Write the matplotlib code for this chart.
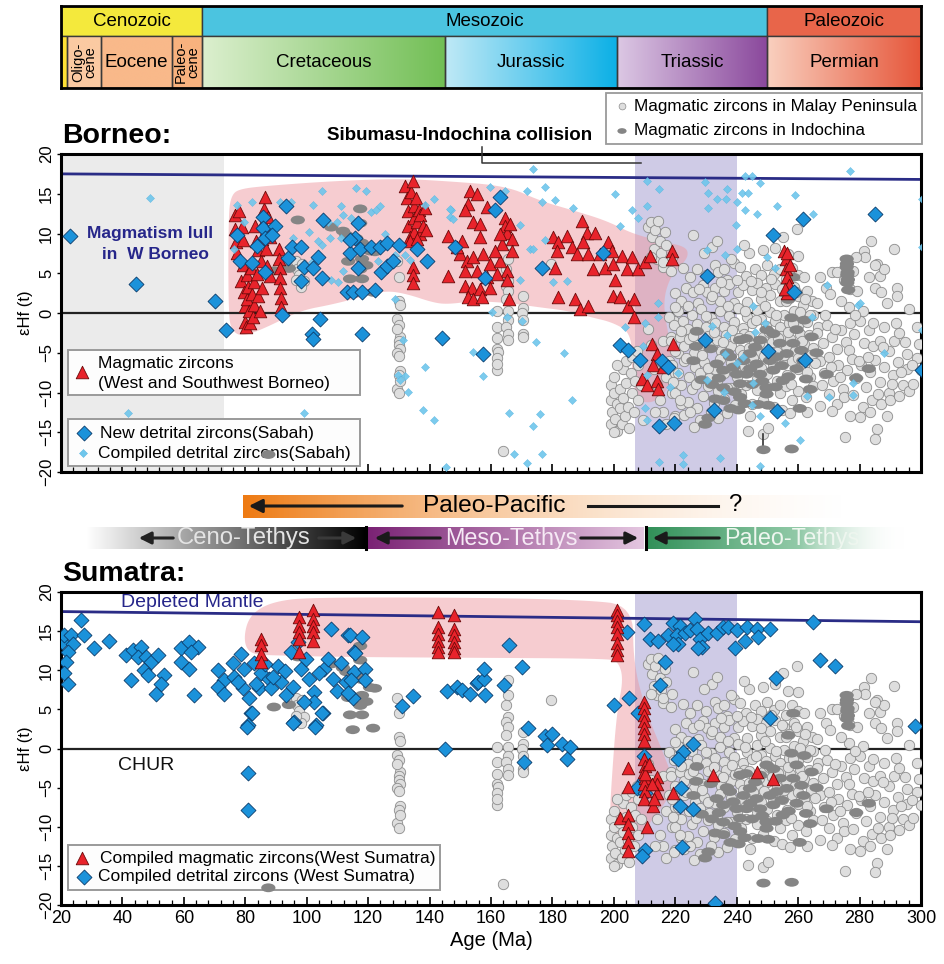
import numpy as np
import matplotlib
matplotlib.use('Agg')
import matplotlib.pyplot as plt
from matplotlib import font_manager
from matplotlib.path import Path
from matplotlib.patches import Polygon, Rectangle
from matplotlib.colors import to_rgb
from matplotlib.ticker import MultipleLocator


def pick_font(*names):
    for name in names:
        try:
            font_manager.findfont(font_manager.FontProperties(family=name),
                                  fallback_to_default=False)
            return name
        except ValueError:
            continue
    return None


BASE = pick_font('Liberation Sans', 'Arial') or 'DejaVu Sans'
NARROW = pick_font('Liberation Sans Narrow', 'Arial Narrow')
SQ = 1.0
if NARROW is None:
    NARROW, SQ = BASE, 0.82
plt.rcParams['font.family'] = [BASE, 'DejaVu Sans']

# ---------------- geological time scale ----------------
era_bounds = [20, 66, 250, 300]
era_names = ['Cenozoic', 'Mesozoic', 'Paleozoic']
era_colors = ['#f4e93c', '#4bc4e0', '#e8654a']
per_bounds = [20, 22, 33, 56, 66, 145, 201, 250, 300]
per_names = ['', 'Oligo-\ncene', 'Eocene', 'Paleo-\ncene', 'Cretaceous', 'Jurassic', 'Triassic', 'Permian']
per_left = ['#ffe135', '#fbcaa2', '#f9b98a', '#f8b27e', '#dcefcf', '#bfe9f6', '#dcc8e4', '#f9d0bf']
per_right = ['#ffe135', '#fbcaa2', '#f9b98a', '#f8b27e', '#72bf55', '#0cb0e6', '#8a489c', '#e6563a']

# ---------------- depleted mantle line (age, eHf at 20 and 300 Ma) ----------------
dm_age = [20, 300]
dm_borneo = [17.5, 16.8]
dm_sumatra = [17.5, 16.2]

# ---------------- magmatic zircons, Malay Peninsula (shared by both panels) ----------------
malay = [
    (96.5, 6.5), (97.0, 5.5), (97.5, 4.8), (98.5, 6.2), (99.0, 4.0), (98.0, 3.3), (96.5, 4.2),
    (129.5, 6.5), (130.0, 4.5), (130.0, 1.5), (129.5, -0.8), (130.0, -1.5), (130.5, -3.0), (130.0, -3.5),
    (130.0, -4.0), (130.5, -4.5), (129.5, -5.0), (130.0, -5.4), (130.5, -7.3), (130.0, -7.8), (129.5, -9.5),
    (130.0, -10.1), (130.5, 1.0), (129.5, -2.0), (130.5, -8.5),
    (162.0, 0.2), (162.0, -1.7), (162.0, -3.2), (162.0, -4.5), (162.3, -4.9), (162.0, -5.7), (162.0, -7.2),
    (161.8, -6.4), (165.5, 8.7), (165.5, 6.8), (165.0, 5.5), (165.5, 4.0), (165.0, 3.4), (165.5, 2.8),
    (165.0, 1.7), (165.5, 0.2), (165.5, -0.9), (165.0, -1.7), (165.5, -2.6), (165.5, -3.4),
    (170.5, 2.1), (170.5, 0.6), (170.0, 0.0), (170.5, -0.9), (170.5, -2.6), (170.5, -3.0),
    (179.5, 6.2), (163.8, -17.3),
    (199.0, -9.0), (199.0, -11.0), (199.5, -12.5), (199.0, -14.0), (200.0, -8.0), (200.0, -10.0),
    (200.5, -13.3), (201.0, -11.5), (201.0, -14.8), (202.0, -9.5), (202.0, -12.0), (202.5, -14.0),
    (203.0, -7.0), (203.0, -10.7), (203.5, -13.0), (204.0, -6.0), (204.0, -8.8), (204.5, -11.8),
    (205.0, -14.5), (205.5, -7.5), (206.0, -5.5), (206.0, -10.0), (206.5, -12.5), (207.0, -8.5),
    (207.5, -4.8), (208.0, -11.0), (208.0, -6.5), (209.0, -9.0), (209.5, -13.5), (201.0, -6.5), (200.0, -15.0),
    (211.0, 10.8), (212.0, 11.5), (212.5, 9.5), (213.5, 10.5), (213.0, 8.0), (214.0, 6.8), (215.0, 9.0),
    (215.5, 7.5), (216.0, 5.8), (214.5, 11.6), (217.0, 8.5), (212.0, 7.0), (216.5, 10.2), (218.5, 5.3),
    (225.9, 9.8), (222.6, 5.7), (216.1, 6.4), (218.8, 7.0),
    (211.0, -2.0), (212.0, -4.0), (213.0, -7.0), (214.0, -9.0), (215.0, -11.0), (216.0, -12.5), (217.0, -8.0),
    (218.0, -6.0), (219.0, -10.0), (220.0, -13.0), (218.5, -3.0), (219.5, -1.0), (221.0, -5.0), (221.0, -9.0),
    (222.0, -11.5), (217.0, -14.0), (213.5, -12.5), (216.0, -3.5), (220.0, -7.5), (222.5, -3.0),
    (224.8, 4.5), (227.0, 5.5), (230.0, 4.8), (233.0, 6.0), (234.0, 5.2), (236.0, 5.5), (237.0, 4.2),
    (239.0, 6.3), (241.0, 5.8), (243.0, 4.6), (243.9, 7.6), (246.0, 5.5), (248.0, 4.8), (250.0, 6.0),
    (252.0, 4.9), (254.0, 5.5), (256.0, 4.3), (258.0, 5.6), (260.0, 4.8), (260.1, 7.2), (259.6, 10.6),
    (262.0, 4.5), (255.2, 9.6), (256.8, 7.4), (232.0, 8.3), (238.0, 6.8),
    (220.0, 2.5), (222.0, 1.5), (223.5, 3.2), (225.9, 2.6), (227.5, 1.2), (229.0, 3.5), (230.2, 2.6),
    (231.5, 1.8), (233.0, 3.2), (234.5, 1.5), (236.0, 2.8), (237.5, 3.6), (239.0, 1.3), (240.5, 2.7),
    (242.0, 3.5), (243.5, 1.4), (245.0, 2.9), (246.5, 3.8), (248.0, 1.7), (249.5, 3.2), (251.0, 2.3),
    (252.5, 3.6), (254.0, 1.5), (255.5, 2.8), (257.0, 1.9), (258.5, 3.3), (260.0, 2.2), (261.5, 1.0),
    (263.0, 2.8), (264.5, 1.5),
    (218.0, -0.5), (219.5, -1.5), (221.0, 0.3), (222.5, -1.0), (224.0, -2.0), (225.5, -0.3), (227.0, -1.4),
    (228.5, 0.5), (230.0, -1.8), (231.5, -0.6), (233.0, -1.2), (234.5, 0.2), (236.0, -1.7), (237.5, -0.4),
    (239.0, -1.1), (240.5, 0.6), (242.0, -1.9), (243.5, -0.5), (245.0, -1.3), (246.5, 0.4), (248.0, -0.8),
    (249.5, -1.6), (251.0, 0.1), (252.5, -1.0), (254.0, -1.8), (255.5, -0.2), (257.0, -1.2), (258.5, 0.3),
    (260.0, -1.5), (261.5, -0.5), (263.0, -1.1), (265.0, -0.3), (266.5, -1.8),
    (218.5, -3.5), (220.0, -4.8), (221.5, -3.0), (223.0, -4.2), (224.5, -3.3), (226.0, -5.0), (227.5, -3.8),
    (229.0, -4.5), (230.5, -2.9), (232.0, -4.0), (233.5, -3.4), (235.0, -4.8), (236.5, -2.8), (238.0, -4.2),
    (239.5, -3.2), (241.0, -4.6), (242.5, -2.7), (244.0, -4.4), (245.5, -3.5), (247.0, -5.0), (248.5, -3.0),
    (250.0, -4.3), (251.5, -3.6), (253.0, -4.9), (254.5, -2.9), (256.0, -4.1), (257.5, -3.3), (259.0, -4.8),
    (260.5, -2.6), (262.0, -3.9), (263.5, -2.8), (265.0, -4.4),
    (219.0, -6.5), (221.0, -7.5), (223.0, -6.0), (224.5, -8.0), (226.5, -6.8), (228.0, -7.6), (229.5, -6.2),
    (231.0, -8.2), (233.0, -7.0), (234.5, -5.8), (236.0, -7.5), (238.0, -6.3), (240.0, -8.1), (241.5, -6.6),
    (243.0, -7.4), (245.0, -6.1), (246.5, -8.3), (248.0, -6.9), (250.0, -7.7), (251.5, -5.9), (253.0, -8.5),
    (255.0, -6.4), (256.5, -7.8), (258.0, -6.0), (260.0, -7.1), (262.0, -6.5), (264.0, -8.0),
    (220.0, -10.0), (222.0, -9.0), (224.0, -11.2), (225.5, -9.6), (227.0, -12.0), (229.0, -10.5), (230.5, -9.2),
    (232.5, -11.3), (234.0, -9.8), (236.0, -10.8), (238.0, -9.4), (239.5, -11.6), (241.5, -10.2), (243.0, -9.0),
    (245.0, -11.4), (246.5, -9.7), (248.5, -10.9), (250.0, -9.3), (252.0, -11.8), (254.0, -10.1), (256.0, -9.2),
    (258.0, -11.0), (260.0, -9.8), (262.5, -10.6),
    (219.5, -13.2), (223.0, -12.8), (228.0, -13.5), (243.8, -14.9), (248.6, -15.2), (250.3, -14.5),
    (234.0, -13.2), (226.0, -14.3),
    (219.8, 0.8), (221.8, -2.3), (223.6, -5.6), (224.2, 0.9), (225.8, -2.9), (226.6, -8.9), (227.8, 3.0),
    (228.7, -5.3), (229.9, -0.4), (230.7, -6.9), (231.9, 2.2), (232.6, -2.4), (233.7, -8.6), (234.8, 3.9),
    (235.4, -3.6), (236.7, -9.4), (237.3, 0.9), (238.5, -2.1), (239.3, -7.2), (240.2, 4.2), (240.9, -3.1),
    (241.9, -5.3), (242.8, 0.2), (243.9, -2.9), (244.6, 4.0), (245.4, -5.6), (246.2, -0.9), (247.3, -3.8),
    (247.9, 2.6), (248.8, -5.4), (249.2, 0.9), (250.4, -2.4), (251.2, 4.3), (251.9, -6.7), (252.9, -0.3),
    (253.6, -3.1), (254.7, 3.0), (255.3, -5.3), (255.9, 1.5), (256.8, -2.4), (257.7, -8.9), (258.3, -1.3),
    (259.2, 2.7), (259.8, -5.6), (260.7, 0.1), (261.3, -3.5), (262.2, 1.8), (262.9, -7.4), (263.7, -0.2),
    (264.3, -5.3), (219.2, -8.7), (221.4, -11.0), (224.9, -12.5), (236.9, -12.6), (231.6, -12.4),
    (254.8, -12.2), (257.4, -12.6), (244.3, -12.9), (233.6, 9.1), (229.4, 7.6), (242.4, 8.6), (248.7, 7.9),
    (252.6, 8.2),
    (267.0, 4.5), (269.0, 3.2), (271.0, 5.1), (272.6, 5.1), (274.8, 4.1), (275.9, 6.2), (277.0, 3.0),
    (279.1, 2.8), (281.3, 7.8), (281.8, 7.0), (283.0, 4.5), (285.1, 3.2), (285.6, 6.2), (286.7, 4.7),
    (288.0, 5.5), (291.1, 8.0), (292.1, 3.2), (292.1, 2.2), (279.0, 7.0), (285.0, 6.0), (276.4, 0.7),
    (289.0, 1.3), (296.0, 0.5), (270.5, 2.4), (274.0, 1.5), (281.0, 0.3), (287.0, 2.6), (283.8, 9.0),
    (277.8, 5.3),
    (266.0, -2.5), (268.0, -3.8), (269.5, -1.5), (271.0, -3.0), (272.5, -4.5), (274.0, -2.2), (275.5, -3.6),
    (277.0, -1.2), (278.1, -2.6), (280.2, -1.0), (281.5, -3.8), (283.0, -2.2), (284.5, -4.2), (286.7, -3.5),
    (288.0, -1.8), (289.5, -4.8), (291.1, -3.5), (293.0, -2.5), (295.4, -5.2), (298.7, -5.6), (298.7, -1.8),
    (300.0, -7.2), (266.3, 1.2), (268.6, -0.2), (272.0, -2.0), (276.7, -4.6), (278.6, -0.3), (284.3, -1.3),
    (287.6, -4.3), (291.8, -1.2), (294.8, -3.6), (299.2, -3.9),
    (267.0, -6.0), (268.5, -7.5), (270.0, -5.5), (271.5, -8.5), (273.0, -6.5), (274.5, -9.5), (276.0, -7.2),
    (277.5, -5.8), (279.0, -8.2), (280.5, -6.6), (282.0, -9.3), (283.5, -7.4), (285.0, -5.9), (286.5, -8.7),
    (288.0, -6.8), (289.5, -10.0), (291.0, -7.8), (292.5, -6.2), (294.0, -9.0), (295.5, -7.1), (270.0, -10.2),
    (272.6, -11.5), (275.0, -10.6), (278.0, -10.3), (281.0, -11.8), (284.0, -10.9), (287.0, -11.5),
    (290.0, -11.0), (293.0, -10.4), (267.2, -11.7), (271.0, -12.3), (280.2, -13.1), (275.3, -15.6),
    (285.6, -14.6), (285.1, -15.8), (262.8, -12.5), (265.0, -9.2), (296.0, -9.8), (265.6, -6.3),
    (267.8, -9.1), (270.6, -6.8), (273.6, -8.0), (279.7, -6.1), (282.6, -5.5), (286.0, -10.2), (290.4, -8.9),
    (293.6, -7.4), (297.0, -6.6), (297.5, -8.9), (288.9, -12.9), (283.5, -12.4), (276.8, -12.9),
]

# ---------------- magmatic zircons, Indochina (shared by both panels) ----------------
indochina = [
    (89.3, 5.3), (94.2, 5.6), (97.1, 11.7), (108.0, 10.8), (111.8, 10.3), (112.9, 9.8), (116.1, 9.4),
    (117.4, 13.1), (117.4, 11.3), (118.0, 8.8), (120.6, 7.8), (122.2, 7.7), (118.0, 6.8), (119.4, 6.0),
    (117.4, 5.5), (114.1, 4.3), (118.0, 4.3), (121.6, 2.6), (115.0, 2.4), (113.5, 6.5), (87.5, -17.8),
    (230.8, -13.2), (229.7, -14.0), (248.7, -17.2), (257.9, -17.1), (235.6, -11.0), (235.6, -9.4),
    (241.1, -10.6), (241.1, -8.9), (235.6, -7.2), (238.9, -6.8), (242.2, -6.0), (249.7, -9.4), (249.7, -10.2),
    (251.9, -7.2), (253.0, -5.5), (254.1, -3.8), (258.4, -3.8), (261.7, -6.0), (264.4, -3.0), (263.9, -9.6),
    (259.5, -2.1), (256.8, 1.7), (258.4, 4.5), (227.0, -2.3), (225.9, -6.0), (233.5, -6.4), (244.3, -5.1),
    (246.5, -6.4), (251.9, -2.6), (249.7, -2.1), (256.3, -5.1), (241.1, -3.4), (269.3, -7.7), (237.8, -5.5),
    (240.0, -7.7), (243.2, -7.7), (247.6, -7.7), (250.8, -6.0), (245.0, -9.0), (238.0, -12.0), (232.0, -9.0),
    (255.0, -8.5), (247.0, -11.5), (260.5, -12.0), (275.8, 6.8), (275.8, 5.8), (276.0, 4.8), (276.0, 3.8),
    (276.3, 2.9), (283.0, -7.0), (266.0, -5.0),
    (231.5, -4.5), (233.0, -10.8), (234.2, -8.2), (236.8, -5.0), (239.3, -9.9), (240.6, -12.2),
    (242.6, -11.4), (244.4, -7.0), (246.0, -4.3), (248.3, -8.6), (250.2, -11.6), (252.7, -9.3), (254.6, -6.6),
    (256.9, -8.0), (259.5, -7.0), (261.0, -4.7), (262.6, -8.3), (228.6, -8.4), (226.8, -4.2), (247.6, -3.4),
    (243.0, -3.2), (275.9, 6.2), (276.1, 5.1), (276.2, 4.2), (278.9, -8.2), (262.0, -0.9), (257.8, -0.6),
]
link_age = [248.6, 248.6]
link_ehf = [-15.2, -17.2]

# ---------------- Borneo ----------------
borneo_magmatic = [
    (76.5, 12.3), (76.6, 10.6), (77.0, 8.9), (77.4, 7.6), (78.1, 12.8), (78.6, 4.0), (78.8, 10.8), (79.3, 9.2),
    (79.3, 6.1), (79.6, 2.6), (79.8, 0.9), (80.0, -1.1), (80.2, -1.8), (80.4, 4.8), (80.6, 1.8), (81.0, 3.3),
    (81.1, 0.2), (81.5, -1.3), (81.9, 5.7), (82.1, 2.4), (82.4, -0.5), (82.8, 3.9), (83.0, 1.0), (83.3, 11.0),
    (83.4, 9.1), (83.9, 4.9), (84.1, 7.9), (84.3, 2.1), (84.8, 0.3), (85.1, 6.6), (85.3, 3.2), (85.6, 9.3),
    (85.8, 11.3), (86.1, 13.1), (86.4, 14.6), (86.6, 8.1), (86.9, 10.6), (87.1, 5.9), (87.5, 12.1), (87.9, 9.6),
    (88.1, 4.6), (91.0, 8.0), (91.1, 6.8), (91.2, 5.6), (91.3, 4.4), (91.4, 3.1), (91.5, 1.9), (91.6, 0.7),
    (132.0, 16.0), (132.5, 14.5), (133.0, 12.8), (133.0, 11.0), (133.5, 9.5), (134.0, 15.2), (134.5, 16.6),
    (135.0, 13.5), (135.0, 12.0), (135.0, 10.2), (135.5, 14.5), (136.0, 11.5), (136.5, 13.0), (137.0, 10.0),
    (137.0, 12.3), (138.0, 11.0), (138.5, 13.2), (139.0, 10.5), (134.5, 5.8), (134.5, 4.8), (134.5, 3.8),
    (133.5, 9.0), (136.0, 9.3),
    (146.1, 9.7), (146.1, 4.7), (153.2, 15.4), (155.3, 15.0), (152.6, 13.7), (151.5, 12.9), (154.3, 11.4),
    (156.4, 11.2), (156.4, 9.5), (158.6, 13.3), (164.6, 12.0), (164.6, 11.0), (165.1, 10.1), (166.7, 9.3),
    (163.5, 8.7), (166.7, 7.8), (149.9, 7.4), (152.1, 6.6), (154.3, 7.0), (157.5, 7.4), (159.7, 6.2),
    (163.0, 6.6), (165.1, 5.3), (151.5, 5.3), (155.3, 5.3), (158.6, 4.5), (161.9, 4.9), (165.1, 4.1),
    (151.5, 3.4), (153.7, 3.2), (156.4, 3.0), (159.7, 3.2), (152.6, 2.0), (154.3, 1.8), (157.0, 2.0),
    (165.7, 1.8), (148.8, 8.3), (150.5, 9.1), (161.3, 7.8), (162.9, 9.9), (166.2, 11.2),
    (180.3, 9.5), (181.9, 8.9), (181.4, 7.8), (180.8, 5.7), (184.6, 9.7), (186.3, 8.3), (187.9, 7.4),
    (189.5, 11.6), (191.2, 10.1), (193.9, 10.1), (190.1, 8.9), (191.7, 7.4), (193.3, 5.5), (195.5, 7.4),
    (197.1, 5.7), (198.2, 8.9), (199.3, 7.8), (199.8, 6.2), (200.4, 4.1), (202.6, 7.2), (204.2, 5.5),
    (205.8, 7.0), (208.0, 5.5), (210.2, 6.4), (211.8, 7.2), (181.9, 2.0), (187.4, 1.8), (189.0, 0.5),
    (191.7, 0.9), (199.8, 2.2), (202.0, 2.0), (204.7, 0.9), (206.4, 1.8), (206.4, -0.5), (218.8, 7.8),
    (218.8, 6.8),
    (212.3, -3.9), (214.0, -5.2), (219.4, -3.9), (212.9, -6.6), (209.1, -8.3), (210.7, -9.1), (214.0, -8.5),
    (214.5, -9.6), (216.1, -6.8),
    (255.5, 7.8), (256.0, 6.8), (256.5, 7.5), (256.0, 5.5), (256.5, 4.5), (257.0, 3.5), (256.5, 2.5),
    (257.5, 6.0), (255.8, 3.0),
]

borneo_new_detrital = [
    (22.9, 9.7), (44.3, 3.6), (70.2, 1.5), (73.8, -2.2), (77.2, 9.8), (78.3, 6.5), (82.1, 6.3), (83.7, 8.4),
    (85.9, 12.1), (85.9, 10.7), (86.4, 9.4), (86.4, 5.2), (89.7, 10.9), (88.8, 9.8), (91.9, -0.2), (93.3, 13.4),
    (94.0, 6.9), (95.1, 8.3), (98.0, 8.3), (98.0, 4.0), (99.1, 5.8), (102.2, 5.6), (103.8, 7.1), (105.0, 4.4),
    (104.3, -0.8), (101.6, -2.6), (102.0, -3.3), (105.4, 11.7), (117.9, -2.7), (116.8, 11.3), (114.1, 7.5),
    (115.7, 9.4), (114.0, 9.2), (117.4, 8.1), (116.8, 5.6), (113.0, 2.7), (115.0, 2.7), (118.0, 2.7),
    (122.2, 2.9), (121.0, 8.3), (123.8, 8.3), (126.0, 8.8), (124.3, 5.2), (126.0, 5.9), (128.2, 6.5),
    (130.0, 8.6), (135.8, 8.1), (139.1, 6.5), (144.0, -3.1), (148.3, 8.3),
    (163.0, 14.6), (161.3, 13.0), (158.1, 4.4), (176.5, 5.6), (196.6, 7.5), (157.3, -5.2), (202.0, -4.0),
    (204.7, -4.6), (208.5, -5.9), (215.6, -6.0), (217.7, -6.8), (214.8, -14.2), (219.6, -13.8), (230.3, 4.6),
    (229.7, -3.4), (232.6, -12.2), (250.3, -4.8), (253.0, -12.3), (251.7, 9.8), (261.7, 11.8), (258.5, 2.6),
    (262.3, -5.9), (285.1, 12.5), (300.3, -7.2),
]

borneo_compiled_detrital = [
    (49.0, 14.5), (41.7, -12.6), (99.1, -12.6), (77.2, 13.6), (82.1, 14.0), (79.5, 11.5), (76.2, 8.0),
    (91.3, 14.0), (94.9, 14.0), (95.5, 9.4), (100.9, 10.2), (102.0, 13.6), (105.0, 15.3), (107.5, 9.4),
    (107.0, 11.5), (105.0, 8.6), (108.0, 4.1), (111.3, 13.4), (116.1, 15.7), (119.4, 15.3), (121.0, 12.7),
    (111.3, 9.4), (125.4, 10.0), (128.6, 1.7), (133.0, -9.9), (131.4, -3.4), (129.7, -7.8), (131.9, -7.9),
    (130.3, -8.4), (138.4, -6.8), (137.8, -12.2), (141.6, -13.5), (145.4, -19.4), (138.4, 13.6), (141.6, 14.3),
    (147.0, 13.0), (146.5, 12.1), (154.1, -4.9), (131.9, 7.3), (128.6, 7.3), (123.2, 6.5), (122.7, 13.0),
    (133.5, 6.7), (117.2, 5.6), (123.7, 13.5), (111.8, 12.3), (114.5, 12.0), (109.7, 11.4), (103.7, 9.1),
    (101.6, 6.4), (110.3, 3.9), (111.8, 5.3), (146.7, 13.1), (147.7, 11.8), (172.7, 8.0), (180.3, 3.9),
    (160.2, 0.1), (165.1, -0.5), (170.0, -1.0), (203.6, -1.8),
    (173.6, 18.1), (159.7, 15.8), (164.6, 15.3), (171.6, 15.3), (177.6, 15.9), (180.9, 14.2), (176.5, 14.0),
    (186.8, 13.2), (200.4, 15.0), (205.8, 13.0), (210.7, 16.6), (214.8, 15.6), (210.7, 13.5), (208.0, 11.9),
    (202.0, 10.9), (169.5, 11.1), (177.6, 9.2), (173.8, 8.0), (169.5, 4.2), (184.7, 4.0), (174.7, -3.6),
    (183.8, -5.0), (157.5, -7.9), (186.3, -11.0), (165.7, -12.6), (176.0, -12.7), (173.6, -14.2),
    (167.5, -17.7), (176.5, -17.7), (171.6, -18.9), (214.8, -18.8), (222.6, -17.9), (222.4, -19.0),
    (234.4, -18.2), (247.6, -19.2), (210.2, -12.0), (210.7, -13.5), (214.5, 1.2), (214.5, -0.5), (230.3, 7.9),
    (229.7, 16.5), (230.8, 15.1), (233.5, 14.3), (236.7, 15.6), (236.5, 14.3), (230.8, 13.2), (240.0, 13.9),
    (242.7, 17.2), (244.9, 17.2), (247.6, 16.3), (241.7, 15.1), (243.8, 15.1), (242.7, 13.0), (239.8, 11.1),
    (246.5, 12.5), (253.0, 13.4), (259.0, 14.8), (265.0, 12.5), (276.9, 17.8), (300.3, 14.4), (300.3, 8.3),
    (300.3, -2.1), (236.2, 7.3), (240.0, 8.1), (249.8, 7.1), (252.5, 5.6), (245.4, 0.9), (269.3, 3.5),
    (279.6, 1.0), (288.0, -5.0), (269.9, -10.6), (278.0, -10.3), (262.8, -10.5), (255.8, -13.8), (260.6, -16.0),
    (247.6, -13.0), (244.9, -11.6), (235.7, -9.9), (230.3, -8.4), (221.0, -7.5), (218.3, -9.3), (210.7, -7.8),
    (209.6, -4.2), (210.2, -1.3), (231.9, -1.6), (236.2, -5.1), (236.7, -2.8), (246.0, -2.4), (249.2, -1.3),
    (242.2, -5.5), (240.0, -6.3), (245.4, -8.8), (264.4, -0.5), (278.0, -8.8), (280.2, 1.2),
]

borneo_envelope = [
    (74.5, 12.5), (75.5, 14.8), (78.0, 15.6), (87.0, 16.0), (108.7, 16.6), (130.4, 16.9), (145.0, 16.6),
    (165.0, 16.0), (176.0, 14.1), (186.8, 12.9), (197.7, 11.6), (206.4, 9.9), (217.2, 8.9), (223.5, 8.3),
    (224.3, 7.2), (222.0, 6.0), (218.3, 4.5), (216.1, 1.6), (217.2, -1.8), (219.4, -5.2), (218.3, -9.4),
    (212.9, -11.4), (207.4, -11.0), (205.8, -7.3), (205.8, -2.6), (199.8, -1.2), (192.2, -0.5), (184.6, 0.3),
    (176.0, 0.7), (165.0, 1.3), (154.3, 1.5), (146.0, 1.1), (141.2, 1.3), (132.6, 2.4), (126.0, 2.8),
    (119.5, 2.2), (108.7, 1.1), (97.8, 0.3), (87.0, -1.8), (79.0, -3.0), (75.5, -2.2), (74.5, 0.0),
]

# ---------------- Sumatra ----------------
sumatra_magmatic = [
    (85.1, 14.0), (85.1, 13.2), (85.1, 12.1), (85.1, 11.1),
    (97.6, 16.8), (97.6, 15.7), (97.6, 14.9), (97.6, 14.0), (97.6, 12.3),
    (102.0, 17.7), (102.0, 16.6), (102.0, 15.7), (102.0, 14.9), (102.0, 13.8),
    (142.9, 17.4), (142.9, 15.5), (142.9, 14.6), (142.9, 13.8), (142.9, 13.0), (142.9, 12.3),
    (148.0, 17.0), (148.0, 15.3), (148.0, 14.5), (148.0, 13.6), (148.0, 12.8), (148.0, 12.3),
    (201.0, 17.7), (201.0, 17.0), (201.0, 16.3), (201.0, 15.5), (201.0, 14.6), (201.0, 13.5), (201.0, 12.6),
    (201.0, 11.9),
    (209.7, 6.0), (209.8, 5.2), (209.7, 4.3), (209.9, 3.5), (209.7, 2.6), (209.8, 1.8), (209.7, 0.9),
    (209.8, -1.3), (210.0, -2.2), (209.7, -3.0), (210.1, -3.8), (209.8, -4.6), (210.0, -5.4), (209.7, -6.4),
    (204.7, -2.5), (204.7, -4.9), (202.0, -8.9), (204.7, -8.5), (204.7, -9.7), (204.7, -10.8), (204.7, -12.0),
    (204.7, -13.1), (210.1, -3.2), (214.0, -3.6), (214.0, -4.6), (214.0, -5.7), (212.9, -7.4), (210.7, -10.0),
    (219.4, -5.7), (232.2, -3.4), (246.5, -3.0), (251.7, -3.9), (211.5, -2.0), (212.5, -4.5), (213.0, -6.5),
]

sumatra_detrital = [
    (26.5, 16.4), (20.2, 13.6), (21.0, 14.5), (23.3, 14.5), (23.8, 13.4), (22.2, 12.3), (21.6, 11.1),
    (21.1, 9.6), (22.2, 8.3), (27.6, 14.5), (30.9, 12.8), (35.7, 13.8), (41.2, 11.9), (43.3, 12.6), (46.0, 13.0),
    (45.0, 11.7), (47.7, 11.7), (49.3, 11.1), (47.1, 10.0), (48.2, 9.4), (51.5, 11.9), (42.8, 8.7), (53.6, 9.4),
    (52.6, 8.3), (50.9, 7.0), (59.1, 12.8), (61.8, 13.6), (64.5, 13.0), (62.3, 12.3), (59.1, 11.1), (61.8, 10.2),
    (63.4, 6.8), (71.0, 10.0), (73.2, 8.7), (71.0, 7.9), (73.2, 7.0), (75.9, 10.9), (76.4, 9.1), (78.6, 12.1),
    (79.7, 10.2), (79.2, 7.7), (81.3, 6.4), (81.9, 4.5), (80.8, 3.0), (80.8, -3.1), (80.8, -7.9), (83.0, 10.9),
    (85.1, 9.6), (84.6, 7.7), (87.8, 8.9), (88.4, 7.7), (90.6, 10.6), (91.6, 8.5), (93.3, 6.8), (96.0, 3.4),
    (94.9, 12.3), (97.1, 13.6), (98.1, 10.2), (99.8, 11.5), (100.9, 8.9), (102.5, 7.2), (103.0, 3.0),
    (105.7, 10.2), (106.8, 11.5), (107.9, 15.3), (108.5, 8.9), (111.2, 10.9), (113.3, 14.5), (112.8, 8.5),
    (115.5, 12.3), (115.5, 9.8), (105.2, 4.5), (102.5, 6.0), (99.2, 6.0), (80.7, 2.8), (82.1, 4.5),
    (86.5, 10.8), (89.0, 9.2), (92.8, 9.9), (95.5, 7.8), (77.5, 8.5), (83.5, 8.2), (104.0, 9.6), (109.8, 7.4),
    (114.1, 14.5), (117.9, 14.2), (115.7, 12.2), (119.0, 10.1), (119.0, 8.8), (114.3, 8.8), (115.2, 6.4),
    (113.5, 7.1), (104.9, 4.5), (102.7, 2.8), (95.6, 3.3), (130.9, 5.4), (134.7, 6.7), (145.0, 0.0),
    (145.6, 7.4), (148.8, 7.8), (150.5, 7.5), (153.2, 7.0), (155.4, 8.4), (155.9, 8.5), (157.6, 8.9),
    (157.8, 10.1), (157.9, 6.8), (164.1, 8.1), (166.0, 13.2), (170.0, 10.4), (171.9, 2.6), (170.9, -1.7),
    (177.6, 1.6), (179.8, 1.9), (178.2, 0.5), (183.1, 0.6), (185.8, 0.2), (184.9, -1.3), (199.9, 5.5),
    (204.8, 6.5), (208.0, 4.5), (204.2, 14.9), (209.7, 15.9), (209.7, -0.9), (209.7, -4.0), (207.5, -5.1),
    (210.2, -5.7), (210.2, -13.0), (209.1, -13.8),
    (211.8, 14.0), (214.5, 13.8), (216.6, 11.1), (215.0, 8.1), (217.7, 14.5), (219.4, 16.0), (221.5, 15.7),
    (220.4, 14.5), (221.0, 13.4), (219.4, 13.4), (223.2, 14.7), (224.8, 15.1), (226.4, 16.6), (227.0, 15.3),
    (228.0, 14.0), (228.6, 13.0), (227.5, 12.8), (230.8, 14.7), (233.5, 14.7), (235.6, 15.5), (237.3, 15.5),
    (240.0, 15.1), (239.4, 12.8), (242.7, 13.8), (243.2, 15.5), (246.5, 15.3), (247.0, 14.3), (250.8, 15.3),
    (264.9, 16.2), (267.1, 11.3), (272.0, 10.6), (252.8, 9.0), (250.8, 3.9), (298.0, 2.9), (225.9, 0.6),
    (222.6, -0.4), (221.0, -1.3), (222.0, -5.1), (225.9, -7.7), (221.5, -7.4), (222.1, -12.6), (232.9, -19.8),
]

sumatra_envelope = [
    (79.5, 13.5), (80.5, 16.2), (84.0, 17.8), (90.0, 18.8), (100.0, 19.3), (150.0, 19.3), (190.0, 19.0),
    (206.3, 18.3), (206.3, 10.9), (210.7, 4.5), (216.1, -0.6), (219.4, -4.0), (218.3, -6.1), (211.8, -9.5),
    (206.9, -12.1), (203.1, -12.5), (199.3, -12.1), (198.7, -8.3), (199.3, -4.0), (200.9, 4.5), (203.1, 8.8),
    (201.5, 11.1), (197.7, 11.5), (150.0, 11.6), (110.0, 11.7), (90.0, 11.9), (82.0, 12.0),
]

lull_span = (20, 73)
collision_span = (207, 240)

# ---------------- styles ----------------
ellipse = Path(Path.unit_circle().vertices * [1.0, 0.62], Path.unit_circle().codes)
STY_MALAY = dict(marker='o', s=56, facecolor='#dedede', edgecolor='#8c8c8c', linewidths=0.6)
STY_INDO = dict(marker=ellipse, s=105, facecolor='#858585', edgecolor='none')
STY_TRI = dict(marker='^', s=82, facecolor='#e8232b', edgecolor='#6b0a0a', linewidths=0.6)
STY_BIG = dict(marker='D', s=58, facecolor='#1b92da', edgecolor='#0b3c6b', linewidths=0.6)
STY_SMALL = dict(marker='D', s=17, facecolor='#6ec6ec', edgecolor='#54b2df', linewidths=0.3)


def chaikin(pts, n=3):
    p = np.asarray(pts, float)
    for _ in range(n):
        q = 0.75 * p + 0.25 * np.roll(p, -1, axis=0)
        r = 0.25 * p + 0.75 * np.roll(p, -1, axis=0)
        p = np.empty((2 * len(q), 2))
        p[0::2], p[1::2] = q, r
    return p


def hgrad(ax, x0, x1, y0, y1, c0, c1, a0=1.0, a1=1.0, z=1):
    t = np.linspace(0, 1, 256)
    img = np.zeros((1, 256, 4))
    img[0, :, :3] = np.array(to_rgb(c0)) + (np.array(to_rgb(c1)) - np.array(to_rgb(c0))) * t[:, None]
    img[0, :, 3] = a0 + (a1 - a0) * t
    ax.imshow(img, extent=[x0, x1, y0, y1], aspect='auto', interpolation='bilinear', zorder=z)


def xy(pts):
    a = np.asarray(pts, float)
    return a[:, 0], a[:, 1]


def base_panel(ax, dm, envelope):
    ax.set_xlim(20, 300)
    ax.set_ylim(-20, 20)
    ax.axvspan(*collision_span, color='#cfcbe6', lw=0, zorder=0.6)
    ax.add_patch(Polygon(chaikin(envelope), closed=True, fc='#ee9aa2', ec='none', alpha=0.5, zorder=1))
    ax.plot(dm_age, dm, color='#2a2c86', lw=2.0, zorder=2)
    ax.axhline(0, color='#222222', lw=1.6, zorder=2)
    ax.scatter(*xy(malay), zorder=3, **STY_MALAY)
    ax.scatter(*xy(indochina), zorder=3.2, **STY_INDO)
    ax.set_xticks(np.arange(20, 301, 20))
    ax.xaxis.set_minor_locator(MultipleLocator(4))
    ax.tick_params(axis='x', which='major', direction='in', length=6, width=1.2, labelsize=13)
    ax.tick_params(axis='x', which='minor', direction='in', length=3.5, width=0.9)
    ax.set_yticks(np.arange(-20, 21, 5))
    ax.tick_params(axis='y', direction='out', length=3, width=1, labelsize=12, pad=2)
    for lab in ax.get_yticklabels():
        lab.set_rotation(90)
        lab.set_va('center')
    for sp in ax.spines.values():
        sp.set_linewidth(2.2)
    ax.set_ylabel('εHf (t)', fontsize=12)
    ax.yaxis.set_label_coords(-0.033, 0.5)


fig = plt.figure(figsize=(9.45, 9.64), dpi=100)
W, H = 945, 964

# overlay in pixel coordinates for headings and tectonic bars
ov = fig.add_axes([0, 0, 1, 1], zorder=0)
ov.set_axis_off()

ax1 = fig.add_axes([61 / W, 1 - 472 / H, 860 / W, 318 / H], zorder=2)
ax2 = fig.add_axes([61 / W, 1 - 905 / H, 860 / W, 313 / H], zorder=2)
ts = fig.add_axes([61 / W, 1 - 88 / H, 860 / W, 82 / H], zorder=2)

# ---- time scale ----
split = 0.634
for i, name in enumerate(era_names):
    ts.add_patch(Rectangle((era_bounds[i], split), era_bounds[i + 1] - era_bounds[i], 1 - split,
                           fc=era_colors[i], ec='#3a3a3a', lw=1.0, zorder=1))
    ts.text((era_bounds[i] + era_bounds[i + 1]) / 2, (1 + split) / 2, name, ha='center', va='center',
            fontsize=13.5, zorder=3)
for i, name in enumerate(per_names):
    x0, x1 = per_bounds[i], per_bounds[i + 1]
    hgrad(ts, x0, x1, 0, split, per_left[i], per_right[i], z=1)
    ts.add_patch(Rectangle((x0, 0), x1 - x0, split, fc='none', ec='#3a3a3a', lw=1.0, zorder=2))
    if '\n' in name:
        ts.text((x0 + x1) / 2, split / 2, name, ha='center', va='center', rotation=90,
                fontsize=10.5, linespacing=0.85, zorder=3)
    elif name:
        ts.text((x0 + x1) / 2, split / 2, name, ha='center', va='center', fontsize=13.5, zorder=3)
ts.set_xlim(20, 300)
ts.set_ylim(0, 1)
ts.set_xticks([])
ts.set_yticks([])
for sp in ts.spines.values():
    sp.set_linewidth(2)

# ---- Borneo ----
ax1.axvspan(*lull_span, color='#ebebeb', lw=0, zorder=0.5)
base_panel(ax1, dm_borneo, borneo_envelope)
ax1.plot(link_age, link_ehf, color='#333333', lw=1.2, zorder=3.1)
ax1.scatter(*xy(borneo_magmatic), zorder=4, **STY_TRI)
ax1.scatter(*xy(borneo_compiled_detrital), zorder=4.5, alpha=0.9, **STY_SMALL)
ax1.scatter(*xy(borneo_new_detrital), zorder=5, **STY_BIG)
ax1.tick_params(axis='x', labelbottom=False)
ax1.text(49, 10.0, 'Magmatism lull', ha='center', va='center', fontsize=12.5, fontweight='bold',
         color='#26268a', zorder=6)
ax1.text(50, 7.4, ' in  W Borneo', ha='center', va='center', fontsize=12.5, fontweight='bold',
         color='#26268a', zorder=6)
ax1.plot([157.1, 157.1, 208.9], [20.9, 18.9, 18.9], color='#333333', lw=1.1, clip_on=False, zorder=6)


def bx(px):
    return (px - 61) / 860


def by1(py):
    return (472 - py) / 318


def by2(py):
    return (905 - py) / 313


def key_box(ax, fy, x0, x1, y0, y1):
    ax.add_patch(Rectangle((bx(x0), fy(y1)), bx(x1) - bx(x0), fy(y0) - fy(y1), transform=ax.transAxes,
                           fc='#fdfdfd', ec='#9a9a9a', lw=1.4, zorder=2.5))


key_box(ax1, by1, 68, 360, 350, 395)
key_box(ax1, by1, 68, 360, 419, 466)
tA = ax1.transAxes
ax1.scatter([bx(82)], [by1(372)], transform=tA, zorder=6, **STY_TRI)
ax1.text(bx(98), by1(363), 'Magmatic zircons', transform=tA, va='center', fontsize=12.5, zorder=6)
ax1.text(bx(98), by1(383), '(West and Southwest Borneo)', transform=tA, va='center', fontsize=12.5, zorder=6)
ax1.scatter([bx(84)], [by1(433)], transform=tA, zorder=6, **STY_BIG)
ax1.text(bx(100), by1(433), 'New detrital zircons(Sabah)', transform=tA, va='center', fontsize=12.5, zorder=6)
ax1.scatter([bx(83)], [by1(453)], transform=tA, zorder=6, **STY_SMALL)
ax1.text(bx(98), by1(453), 'Compiled detrital zircons(Sabah)', transform=tA, va='center', fontsize=12.5,
         zorder=2.6)

# ---- Sumatra ----
base_panel(ax2, dm_sumatra, sumatra_envelope)
ax2.scatter(*xy(sumatra_detrital), zorder=4, **STY_BIG)
ax2.scatter(*xy(sumatra_magmatic), zorder=5, **STY_TRI)
ax2.text(39.5, 18.7, 'Depleted Mantle', ha='left', va='center', fontsize=14, color='#26268a', zorder=6)
ax2.text(38.5, -2.2, 'CHUR', ha='left', va='center', fontsize=14, color='#111111', zorder=6)
ax2.set_xlabel('Age (Ma)', fontsize=14.5, labelpad=3)
key_box(ax2, by2, 68, 440, 845, 890)
tB = ax2.transAxes
ax2.scatter([bx(82)], [by2(858)], transform=tB, zorder=6, **STY_TRI)
ax2.text(bx(100), by2(858), 'Compiled magmatic zircons(West Sumatra)', transform=tB, va='center',
         fontsize=12.5, zorder=6)
ax2.scatter([bx(84)], [by2(877)], transform=tB, zorder=6, **STY_BIG)
ax2.text(bx(98), by2(877), 'Compiled detrital zircons (West Sumatra)', transform=tB, va='center',
         fontsize=12.5, zorder=6)

# ---- overlay: headings, key for Malay/Indochina, tectonic domains ----
ov.text(62, 136, 'Borneo:', ha='left', va='center', fontsize=25 * SQ, fontweight='bold', family=NARROW)
ov.text(62, 574, 'Sumatra:', ha='left', va='center', fontsize=25 * SQ, fontweight='bold', family=NARROW)
ov.text(460, 135, 'Sibumasu-Indochina collision', ha='center', va='center', fontsize=16.5 * SQ,
        fontweight='bold', family=NARROW)

ov.add_patch(Rectangle((606, 93), 316, 51, fc='white', ec='#9a9a9a', lw=1.3))
ov.scatter([622], [106], marker='o', s=24, fc='#dedede', ec='#8c8c8c', lw=0.5)
ov.scatter([622], [131], marker=ellipse, s=44, fc='#858585', ec='none')
ov.text(634, 106, 'Magmatic zircons in Malay Peninsula', va='center', fontsize=15 * SQ, family=NARROW)
ov.text(634, 131, 'Magmatic zircons in Indochina', va='center', fontsize=15 * SQ, family=NARROW)

# Paleo-Pacific bar
hgrad(ov, 243, 845, 518, 495, '#ee7a12', '#fbe3cc', 1.0, 0.0, z=1)
ov.annotate('', xy=(246, 506), xytext=(405, 506),
            arrowprops=dict(arrowstyle='-|>', color='#1a1a1a', lw=2.2, mutation_scale=20), zorder=3)
ov.text(494, 506, 'Paleo-Pacific', ha='center', va='center', fontsize=21.5 * SQ, family=NARROW, zorder=3)
ov.plot([588, 718], [506, 506], color='#1a1a1a', lw=2.2, zorder=3)
ov.text(736, 505, '?', ha='center', va='center', fontsize=21 * SQ, family=NARROW, zorder=3)

# Tethys bars
hgrad(ov, 85, 365, 549, 527, '#000000', '#000000', 0.0, 1.0, z=1)
hgrad(ov, 367, 644, 549, 527, '#7a2274', '#e4c6e0', 1.0, 1.0, z=1)
hgrad(ov, 646, 800, 549, 527, '#2f8f57', '#7fc199', 1.0, 0.85, z=1)
hgrad(ov, 800, 905, 549, 527, '#7fc199', '#ffffff', 0.85, 0.0, z=1)
ov.plot([365.5, 365.5], [527, 549], color='black', lw=2.2, zorder=3)
ov.plot([645.5, 645.5], [527, 549], color='black', lw=2.2, zorder=3)
ov.annotate('', xy=(136, 538), xytext=(176, 538),
            arrowprops=dict(arrowstyle='-|>', color='#222222', lw=2.2, mutation_scale=18), zorder=3)
ov.text(244, 538, 'Ceno-Tethys', ha='center', va='center', fontsize=21 * SQ, family=NARROW,
        color='#e4e4e4', zorder=3)
ov.annotate('', xy=(359, 538), xytext=(316, 538),
            arrowprops=dict(arrowstyle='-|>', color='#3a3a3a', lw=2.2, mutation_scale=18), zorder=3)
ov.annotate('', xy=(372, 538), xytext=(443, 538),
            arrowprops=dict(arrowstyle='-|>', color='#1a1a1a', lw=2.2, mutation_scale=18), zorder=3)
ov.text(511, 538, 'Meso-Tethys', ha='center', va='center', fontsize=20.5 * SQ, family=NARROW,
        color='#f6eaf5', zorder=3)
ov.annotate('', xy=(641, 538), xytext=(578, 538),
            arrowprops=dict(arrowstyle='-|>', color='#1a1a1a', lw=2.2, mutation_scale=18), zorder=3)
ov.annotate('', xy=(650, 538), xytext=(722, 538),
            arrowprops=dict(arrowstyle='-|>', color='#1a1a1a', lw=2.2, mutation_scale=18), zorder=3)
ov.text(792, 538, 'Paleo-Tethys', ha='center', va='center', fontsize=20.5 * SQ, family=NARROW,
        color='#eef6ef', zorder=3)

ov.set_xlim(0, W)
ov.set_ylim(H, 0)

fig.savefig('out.png', dpi=100)
